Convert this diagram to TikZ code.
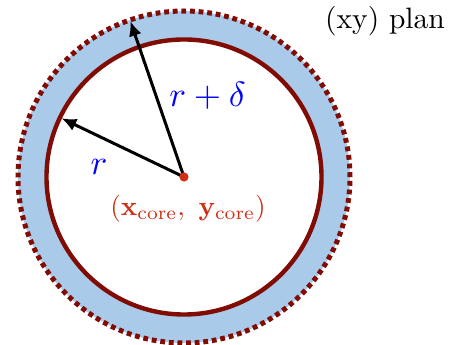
\documentclass[tikz,border=0pt]{standalone}
\usetikzlibrary{arrows.meta,calc}
\definecolor{ringblue}{RGB}{170,202,234}
\definecolor{darkred}{RGB}{128,12,4}
\definecolor{corered}{RGB}{208,46,20}
\tikzset{
  radarrow/.style={line width=3pt, -{Latex[length=15pt,width=13pt]}},
  bluelabel/.style={text=blue, scale=3.5, inner sep=0pt},
}
\begin{document}
\begin{tikzpicture}[x=1pt,y=1pt]
\useasboundingbox (0,0) rectangle (461,345);
\coordinate (C) at (184,168);
\fill[ringblue, even odd rule] (C) circle (166) (C) circle (137.5);
\draw[darkred, line width=4.4pt] (C) circle (137.5);
\draw[darkred, line width=5pt, dash pattern=on 4.8pt off 3.82pt] (C) circle (166);
\coordinate (tipD) at ($(C)+(109:165)$);
\coordinate (tipR) at ($(C)+(154.4:136)$);
\draw[radarrow] (C) -- (tipD);
\draw[radarrow] (C) -- (tipR);
\fill[corered] (C) circle (4.6);
\node[bluelabel] (lrd) at (207.5,249) {$r+\delta$};
\node[bluelabel] (lr) at (99,178) {$r$};
\node[text=corered, scale=2.72, inner sep=0pt] (lcore) at (188,136.5) {$(\mathbf{x}_{\mathrm{core}}\mathpunct{\mathbf{,}}\ \mathbf{y}_{\mathrm{core}})$};
\node[scale=2.95, inner sep=0pt] (plan) at (385,324) {(xy)~plan};
\end{tikzpicture}
\end{document}
